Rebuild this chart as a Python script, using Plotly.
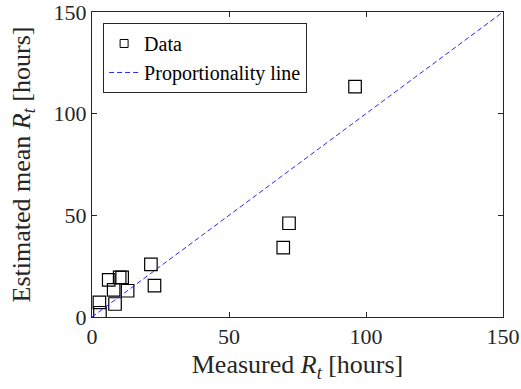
import plotly.graph_objects as go

measured = [2.9, 2.7, 8.4, 7.9, 13.0, 6.1, 10.1, 11.0, 21.5, 22.8, 69.8, 71.9, 96.0]
estimated = [2.1, 7.2, 6.4, 13.3, 12.9, 18.3, 19.5, 19.5, 25.9, 15.4, 34.1, 46.1, 113.3]
line_x = [0, 150]
line_y = [0, 150]
tick_vals = [0, 50, 100, 150]

font_family = "Liberation Serif"
axis_color = "#262626"

fig = go.Figure()
fig.add_trace(go.Scatter(
    x=measured, y=estimated, mode="markers", name="Data", showlegend=False,
    marker=dict(symbol="square-open", size=12.5, color="black", line=dict(width=1.2, color="black")),
))
# legend entry with the small square symbol as in the reference
fig.add_trace(go.Scatter(
    x=[None], y=[None], mode="markers", name="Data",
    marker=dict(symbol="square-open", size=8, color="black", line=dict(width=1, color="black")),
))
fig.add_trace(go.Scatter(
    x=line_x, y=line_y, mode="lines", name="Proportionality line",
    line=dict(color="rgb(40,40,255)", width=1, dash="5px,3px"),
))

axis_common = dict(
    range=[0, 150], tickvals=tick_vals, ticks="inside", ticklen=5, tickcolor=axis_color,
    showline=True, linecolor=axis_color, linewidth=1, mirror="ticks",
    showgrid=False, zeroline=False, automargin=False, ticklabeloverflow="allow",
    tickfont=dict(family=font_family, size=22, color=axis_color),
)

fig.update_layout(
    width=521, height=389,
    margin=dict(l=92, r=18, t=12, b=72, autoexpand=False),
    paper_bgcolor="white", plot_bgcolor="white",
    font=dict(family=font_family, color=axis_color),
    xaxis=dict(**axis_common,
               title=dict(text="Measured <i>R</i><sub><i>t</i></sub> [hours]",
                          font=dict(family=font_family, size=26, color=axis_color), standoff=6)),
    yaxis=dict(**axis_common,
               title=dict(text="Estimated mean <i>R</i><sub><i>t</i></sub> [hours]",
                          font=dict(family=font_family, size=26, color=axis_color))),
    legend=dict(
        x=0.027, y=0.964, xanchor="left", yanchor="top",
        bgcolor="white", bordercolor=axis_color, borderwidth=1,
        font=dict(family=font_family, size=20, color="black"),
        tracegroupgap=0, itemwidth=30,
    ),
)

fig.write_html(
    "out.html",
    config={"displayModeBar": False},
    post_script="document.body.style.margin='0';document.body.style.overflow='hidden';",
)
